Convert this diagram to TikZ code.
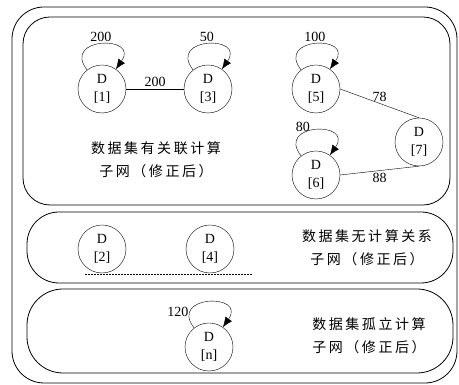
\documentclass[tikz,border=0pt]{standalone}
\usepackage{fontspec}
\setmainfont{Liberation Serif}
\newfontfamily\cjk[LetterSpace=18]{Noto Sans CJK SC}
\usetikzlibrary{arrows.meta, positioning}

\begin{document}
\begin{tikzpicture}[
    x=1pt, y=1pt,
    dnode/.style={draw, circle, minimum size=48pt, inner sep=0pt, align=center, font=\fontsize{14}{18}\selectfont},
    wt/.style={font=\fontsize{14}{16}\selectfont, inner sep=2pt},
    txt/.style={align=center, font=\fontsize{14}{23}\selectfont\cjk},
    grp/.style={draw, line width=0.8pt},
    selfloop/.style={-{Latex[length=10pt,width=8pt]}, out=128, in=55, distance=42pt},
    sep/.style={dash pattern=on 2pt off 1pt}
]
\useasboundingbox (0,0) rectangle (459,385);

% sub-net frames
\draw[grp, rounded corners=32pt] (12,378) rectangle (457,2);
\draw[grp, rounded corners=27pt] (23,368) rectangle (450,180);
\draw[grp, rounded corners=32pt] (27,173) rectangle (453,102);
\draw[grp, rounded corners=36pt] (27,96) rectangle (453,12);

% related sub-net
\node[dnode] (d1) at (102,296) {D\\{[1]}};
\node[dnode] (d3) at (208,296) {D\\{[3]}};
\node[dnode] (d5) at (316,296) {D\\{[5]}};
\node[dnode] (d6) at (316,210) {D\\{[6]}};
\node[dnode] (d7) at (419,243) {D\\{[7]}};
\node[txt] (t1) at (156,225) {数据集有关联计算\\子网（修正后）};

% unrelated sub-net
\node[dnode] (d2) at (102,136) {D\\{[2]}};
\node[dnode] (d4) at (210,136) {D\\{[4]}};
\coordinate (s1) at (85,111);
\coordinate (s2) at (252,111);
\node[txt] (t2) at (367,137) {数据集无计算关系\\子网（修正后）};

% isolated sub-net
\node[dnode] (dn) at (209,38) {D\\{[n]}};
\node[txt] (t3) at (369,49) {数据集孤立计算\\子网（修正后）};

\draw[selfloop] (d1) to node[wt, above] (w11) {200} (d1);
\draw[selfloop] (d3) to node[wt, above] (w33) {50} (d3);
\draw[selfloop] (d5) to node[wt, above] (w55) {100} (d5);
\draw[selfloop] (d6) to node[wt, above=-4pt, xshift=-12pt] (w66) {80} (d6);
\draw[selfloop] (dn) to node[wt, pos=0.2, left, inner sep=1pt] (wnn) {120} (dn);

\draw (d1) -- node[wt, above] (w13) {200} (d3);
\draw (d5.east) -- node[wt, above] (w57) {78} (d7.north);
\draw (d6.east) -- node[wt, below] (w67) {88} (d7.south);
\draw[sep] (s1) -- (s2);
\end{tikzpicture}
\end{document}
